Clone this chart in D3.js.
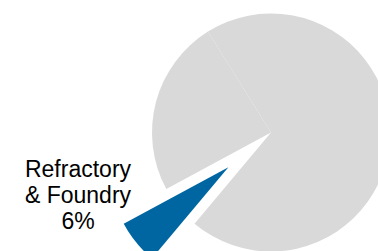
<!DOCTYPE html>
<html>
<head>
<meta charset="utf-8">
<script src="https://cdn.jsdelivr.net/npm/d3@7"></script>
<style>
  html, body { margin: 0; padding: 0; background: #fff; }
  svg { display: block; }
</style>
</head>
<body>
<svg id="chart" width="378" height="251"></svg>
<script>
// slice data (only the highlighted slice is labelled in the original)
var categories = ["Category A", "Refractory & Foundry", "Category B"];
var values = [70, 6, 24];
var labelLines = ["Refractory", "& Foundry", "6%"];
var highlight = "Refractory & Foundry";

var width = 378, height = 251;
var cx = 271, cy = 132.5, radius = 119;
var explode = 55;

var svg = d3.select("#chart");

var startAngle = -32 * Math.PI / 180;
var pie = d3.pie()
	.sort(null)
	.startAngle(startAngle)
	.endAngle(startAngle + 2 * Math.PI);

var arc = d3.arc().innerRadius(0).outerRadius(radius);

var color = d3.scaleOrdinal()
	.domain(categories)
	.range(["#d9d9d9", "#0066a1", "#d9d9d9"]);

var slices = pie(values).map(function(d, i){
	d.name = categories[i];
	return d;
});

var g = svg.append("g").attr("transform", "translate(" + cx + "," + cy + ")");

g.selectAll("path")
	.data(slices)
	.enter().append("path")
	.attr("d", arc)
	.attr("fill", function(d){ return color(d.name); })
	.attr("transform", function(d){
		if (d.name !== highlight) return null;
		var mid = (d.startAngle + d.endAngle) / 2;
		return "translate(" + (Math.sin(mid) * explode) + "," + (-Math.cos(mid) * explode) + ")";
	});

// label for the exploded slice
var label = svg.append("text")
	.attr("x", 78)
	.attr("y", 176.5)
	.attr("text-anchor", "middle")
	.style("font-family", "Liberation Sans, Arial, sans-serif")
	.style("font-size", "23px")
	.style("fill", "#000");

label.selectAll("tspan")
	.data(labelLines)
	.enter().append("tspan")
	.attr("x", 78)
	.attr("dy", function(d, i){ return i === 0 ? 0 : 26; })
	.text(function(d){ return d; });
</script>
</body>
</html>
